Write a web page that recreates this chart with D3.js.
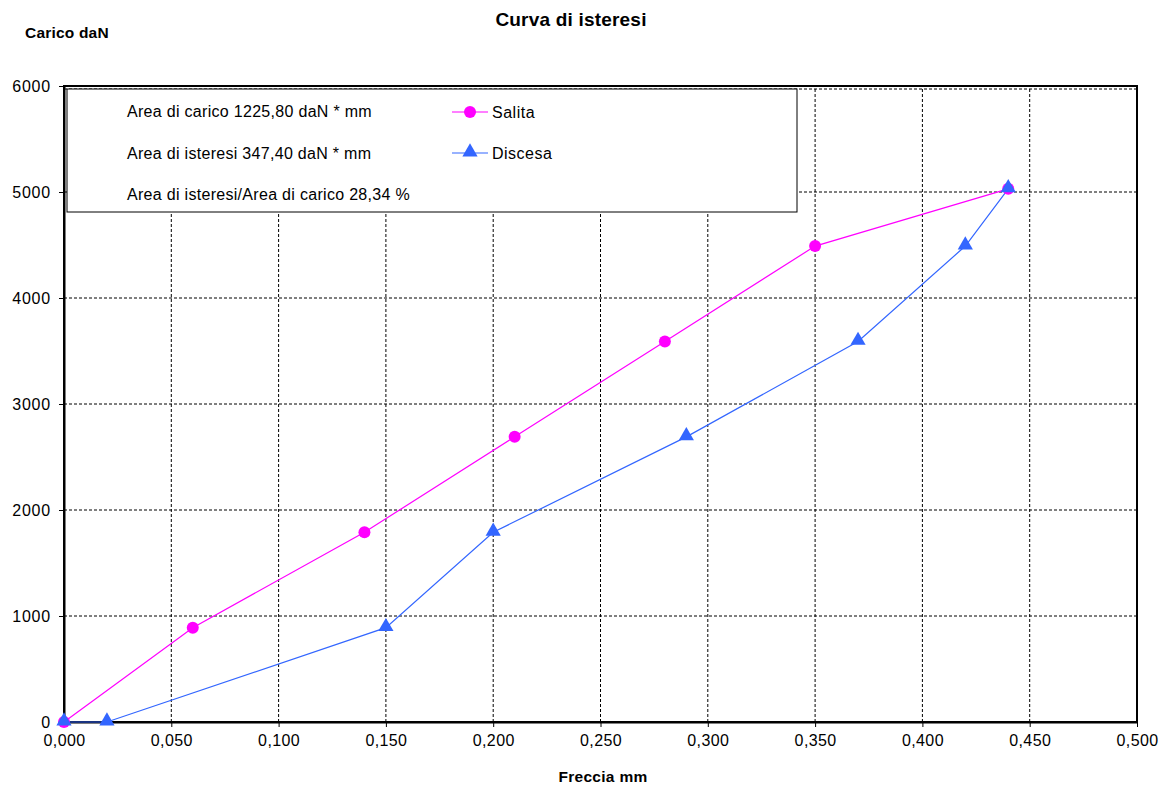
<!DOCTYPE html>
<html>
<head>
<meta charset="utf-8">
<script src="https://cdn.jsdelivr.net/npm/d3@7"></script>
<style>
body { margin: 0; background: #fff; }
svg { font-family: "Liberation Sans", Arial, sans-serif; }
</style>
</head>
<body>
<svg id="chart" width="1170" height="788"></svg>
<script>
// data
const salitaX = [0, 0.06, 0.14, 0.21, 0.28, 0.35, 0.44];
const salitaY = [0, 890, 1790, 2690, 3590, 4490, 5030];
const discesaX = [0.44, 0.42, 0.37, 0.29, 0.20, 0.15, 0.02, 0];
const discesaY = [5030, 4490, 3590, 2690, 1790, 890, 0, 0];
const xTicks = [0, 0.05, 0.1, 0.15, 0.2, 0.25, 0.3, 0.35, 0.4, 0.45, 0.5];
const yTicks = [0, 1000, 2000, 3000, 4000, 5000, 6000];
const infoLines = [
    "Area di carico 1225,80 daN * mm",
    "Area di isteresi 347,40 daN * mm",
    "Area di isteresi/Area di carico 28,34 %"
];
const seriesNames = ["Salita", "Discesa"];

const svg = d3.select('#chart');
const margin = {top: 86, right: 33, bottom: 66, left: 64};
const width = 1170, height = 788;

const x = d3.scaleLinear().domain([0, 0.5]).range([margin.left, width - margin.right]);
const y = d3.scaleLinear().domain([0, 6000]).range([height - margin.bottom, margin.top]);

const fmt = d => d.toFixed(3).replace('.', ',');

// grid
let grid = svg.append('g')
grid.selectAll('.gx').data(xTicks.slice(1, -1)).join('line')
    .attr('x1', d => x(d)).attr('x2', d => x(d))
    .attr('y1', y(0)).attr('y2', y(6000))
    .attr('stroke', '#000').attr('stroke-width', 1).attr('stroke-dasharray', '3,2')
grid.selectAll('.gy').data(yTicks.slice(1)).join('line')
    .attr('x1', x(0)).attr('x2', x(0.5))
    .attr('y1', d => y(d) + (d === 6000 ? 3 : 0)).attr('y2', d => y(d) + (d === 6000 ? 3 : 0))
    .attr('stroke', '#000').attr('stroke-width', 1).attr('stroke-dasharray', '3,2')

// plot border
svg.append('rect')
    .attr('x', x(0)).attr('y', y(6000))
    .attr('width', x(0.5) - x(0)).attr('height', y(0) - y(6000))
    .attr('fill', 'none').attr('stroke', '#000').attr('stroke-width', 2)

// axes
const xAxis = d3.axisBottom(x).tickValues(xTicks).tickFormat(fmt).tickSize(5).tickSizeOuter(0);
const gx = svg.append('g').attr('transform', `translate(0,${y(0)})`).call(xAxis);
gx.select('.domain').attr('stroke-width', 2);
gx.selectAll('text').attr('font-size', 16).attr('fill', '#000').attr('dy', '1.0em')
    .attr('letter-spacing', 0.4);

const yAxis = d3.axisLeft(y).tickValues(yTicks).tickFormat(d3.format('d')).tickSize(5).tickSizeOuter(0);
const gy = svg.append('g').attr('transform', `translate(${x(0)},0)`).call(yAxis);
gy.select('.domain').attr('stroke-width', 2);
gy.selectAll('text').attr('font-size', 16).attr('fill', '#000').attr('x', -13)
    .attr('letter-spacing', 0.8);

// legend / info box
svg.append('rect')
    .attr('x', 67).attr('y', 89).attr('width', 730).attr('height', 123)
    .attr('fill', '#fff').attr('stroke', '#000').attr('stroke-width', 1)
svg.selectAll('.info').data(infoLines).join('text')
    .attr('x', 127).attr('y', (d, i) => 117 + i * 41.5)
    .attr('font-size', 16).attr('fill', '#000').attr('letter-spacing', 0.3)
    .text(d => d)

const salitaColor = '#ff00ff', discesaColor = '#3366ff';
const tri = d3.symbol().type(d3.symbolTriangle).size(100);

// legend entries
const lg = svg.append('g');
[salitaColor, discesaColor].forEach((c, i) => {
    let ly = 112 + i * 41;
    lg.append('line').attr('x1', 452).attr('x2', 488).attr('y1', ly).attr('y2', ly)
        .attr('stroke', c).attr('stroke-width', 1.2)
    if (i === 0) {
        lg.append('circle').attr('cx', 470).attr('cy', ly).attr('r', 6).attr('fill', c)
    } else {
        lg.append('path').attr('d', tri).attr('transform', `translate(470,${ly - 1})`).attr('fill', c)
    }
    lg.append('text').attr('x', 492).attr('y', ly + 6).attr('font-size', 16)
        .attr('letter-spacing', 0.5).text(seriesNames[i])
})

// series
const line = d3.line().x(d => x(d[0])).y(d => y(d[1]));
const salita = salitaX.map((v, i) => [v, salitaY[i]]);
const discesa = discesaX.map((v, i) => [v, discesaY[i]]);

svg.append('path').datum(salita).attr('d', line)
    .attr('fill', 'none').attr('stroke', salitaColor).attr('stroke-width', 1.2)
svg.append('path').datum(discesa).attr('d', line)
    .attr('fill', 'none').attr('stroke', discesaColor).attr('stroke-width', 1.2)

svg.selectAll('.ps').data(salita).join('circle')
    .attr('cx', d => x(d[0])).attr('cy', d => y(d[1])).attr('r', 6)
    .attr('fill', salitaColor)
svg.selectAll('.pd').data(discesa).join('path')
    .attr('d', tri)
    .attr('transform', d => `translate(${x(d[0])},${y(d[1]) - 1})`)
    .attr('fill', discesaColor)

// titles
svg.append('text').attr('x', 571).attr('y', 26).attr('text-anchor', 'middle')
    .attr('font-size', 19).attr('font-weight', 'bold').attr('letter-spacing', 0.2).text('Curva di isteresi')
svg.append('text').attr('x', 25).attr('y', 38)
    .attr('font-size', 15.5).attr('font-weight', 'bold').attr('letter-spacing', 0.2).text('Carico daN')
svg.append('text').attr('x', 603).attr('y', 782).attr('text-anchor', 'middle')
    .attr('font-size', 15.5).attr('font-weight', 'bold').attr('letter-spacing', 0.3).text('Freccia mm')
</script>
</body>
</html>
